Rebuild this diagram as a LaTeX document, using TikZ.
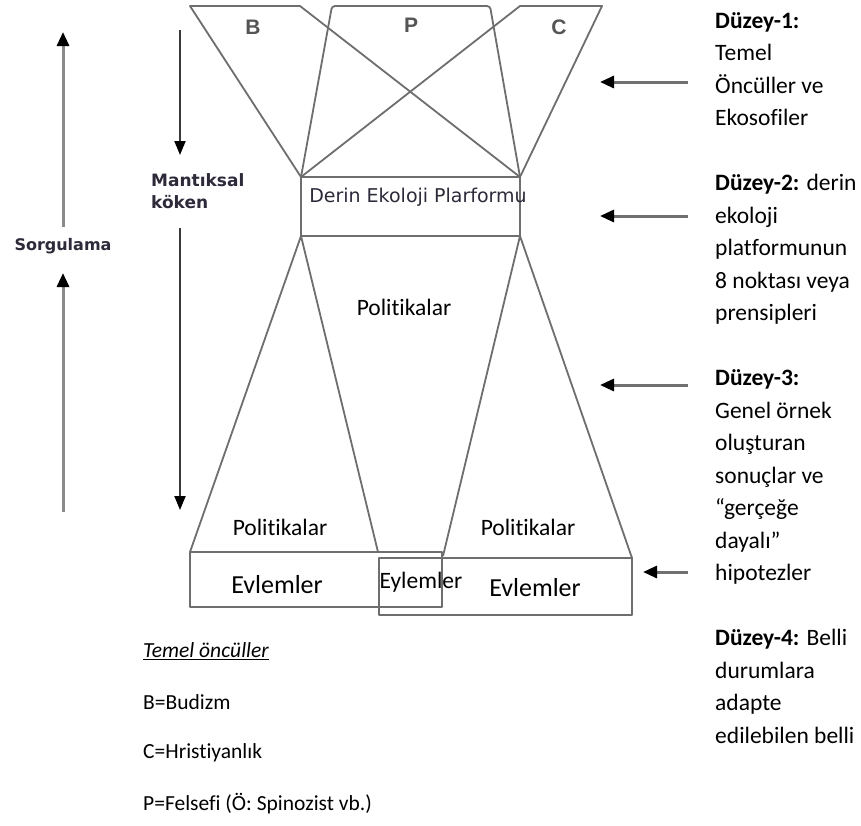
\documentclass[tikz,border=0pt]{standalone}
\usepackage{fontspec}
\setmainfont{Carlito}[Ligatures={NoCommon,NoContextual}]
\newfontfamily\tahfont{DejaVu Sans}
\newfontfamily\arifont{Liberation Sans}
\usetikzlibrary{arrows.meta}
\definecolor{lin}{HTML}{6E6E6E}
\definecolor{sarr}{HTML}{8A8A8A}
\definecolor{marr}{HTML}{3A3A3A}
\definecolor{rarr}{HTML}{707070}
\definecolor{lettc}{HTML}{555555}
\definecolor{tahc}{HTML}{2E2A3A}
\begin{document}
\begin{tikzpicture}[x=1pt,y=-1pt,
  outl/.style={draw=lin,line width=1.8pt,line join=round},
  rtxt/.style={anchor=base west,inner sep=0pt,font=\fontsize{23.5}{28}\selectfont},
  bltxt/.style={anchor=west,inner sep=0pt,font=\fontsize{21.5}{25}\selectfont},
  letter/.style={inner sep=0pt,text=lettc,font=\arifont\bfseries\fontsize{21}{24}\selectfont},
  mid/.style={inner sep=0pt,font=\fontsize{23.5}{28}\selectfont},
  big/.style={inner sep=0pt,font=\fontsize{26}{30}\selectfont},
  tah/.style={inner sep=0pt,text=tahc,font=\tahfont\fontsize{19}{22}\selectfont},
  tahb/.style={inner sep=0pt,text=tahc,font=\tahfont\bfseries\fontsize{16}{20}\selectfont},
  sorg/.style={draw=sarr,line width=3pt,-{Triangle[width=12pt,length=14pt,color=black]}},
  mant/.style={draw=marr,line width=2pt,-{Triangle[width=11pt,length=14pt,color=black]}},
  rgt/.style={draw=rarr,line width=3pt,-{Triangle[width=12pt,length=14pt,color=black]}}]
\useasboundingbox (0,0) rectangle (861,825);
\fill[white] (0,0) rectangle (861,825);

% key vertices
\coordinate (bl) at (190,6);
\coordinate (br) at (300,6);
\coordinate (pl) at (332,6);
\coordinate (pr) at (490,6);
\coordinate (cl) at (520,6);
\coordinate (cr) at (602,6);
\coordinate (vl) at (301,177);
\coordinate (vr) at (520,177);
\coordinate (dl) at (301,236);
\coordinate (dr) at (520,236);
\coordinate (t1) at (190,552);
\coordinate (t2) at (378,552);
\coordinate (t3) at (443,556);
\coordinate (t4) at (632,558);

% top: B, P, C
\draw[outl] (vl) -- (bl) -- (br) -- (vr);
\draw[outl] (vr) -- (cr) -- (cl) -- (vl);
\draw[outl,rounded corners=3pt] (vl) -- (pl) -- (pr) -- (vr);
\node[letter] (lb) at (253,27) {B};
\node[letter] (lp) at (411,25) {P};
\node[letter] (lc) at (559,27) {C};

% platform box
\draw[outl] (vl) rectangle (dr);
\node[tah] (derin) at (418,197) {Derin Ekoloji Plarformu};

% lower trapezoids
\draw[outl] (t1) -- (dl) -- (t2);
\draw[outl] (t3) -- (dr) -- (t4);
\node[mid] (pol0) at (404,307) {Politikalar};
\node[mid] (pol1) at (280,527) {Politikalar};
\node[mid] (pol2) at (528,527) {Politikalar};

% action boxes
\draw[outl] (190,552) rectangle (442,607);
\draw[outl] (379,558) rectangle (632,615);
\draw[outl] (442,558) -- (t4);
\node[big] (ev1) at (277,585) {Evlemler};
\node[mid] (ev2) at (421,582) {Eylemler};
\node[big] (ev3) at (535,588) {Evlemler};

% left arrows
\coordinate (s1a) at (63,227); \coordinate (s1b) at (63,32);
\coordinate (s2a) at (63,512); \coordinate (s2b) at (63,273);
\draw[sorg] (s1a) -- (s1b);
\draw[sorg] (s2a) -- (s2b);
\node[tahb] (sorgu) at (63,246) {Sorgulama};
\coordinate (m1a) at (180,30); \coordinate (m1b) at (180,155);
\coordinate (m2a) at (180,228); \coordinate (m2b) at (180,510);
\draw[mant] (m1a) -- (m1b);
\draw[mant] (m2a) -- (m2b);
\node[tahb,anchor=west,font=\tahfont\bfseries\fontsize{17}{20}\selectfont] (mant1) at (151,180) {Mantıksal};
\node[tahb,anchor=west,font=\tahfont\bfseries\fontsize{17}{20}\selectfont] (mant2) at (151,202) {köken};

% right arrows
\coordinate (r1a) at (688,82);  \coordinate (r1b) at (600,82);
\coordinate (r2a) at (688,216); \coordinate (r2b) at (600,216);
\coordinate (r3a) at (688,385); \coordinate (r3b) at (600,385);
\coordinate (r4a) at (688,572); \coordinate (r4b) at (643,572);
\draw[rgt] (r1a) -- (r1b);
\draw[rgt] (r2a) -- (r2b);
\draw[rgt] (r3a) -- (r3b);
\draw[rgt] (r4a) -- (r4b);

% right column text
\foreach \k/\txt in {0/{\textbf{Düzey-1:}},1/{Temel},2/{Öncüller ve},3/{Ekosofiler},
  5/{\textbf{Düzey-2:} derin},6/{ekoloji},7/{platformunun},8/{8 noktası veya},9/{prensipleri},
  11/{\textbf{Düzey-3:}},12/{Genel örnek},13/{oluşturan},14/{sonuçlar ve},15/{“gerçeğe},16/{dayalı”},17/{hipotezler},
  19/{\textbf{Düzey-4:} Belli},20/{durumlara},21/{adapte},22/{edilebilen belli}}
  \node[rtxt,name=rt\k] at (715,{28+32.5*\k}) {\txt};

% legend
\node[bltxt] (leg0) at (143,651) {\underline{\textit{Temel öncüller}}};
\node[bltxt] (leg1) at (143,702) {B=Budizm};
\node[bltxt] (leg2) at (143,753) {C=Hristiyanlık};
\node[bltxt] (leg3) at (143,804) {P=Felsefi (Ö: Spinozist vb.)};
\end{tikzpicture}
\end{document}
